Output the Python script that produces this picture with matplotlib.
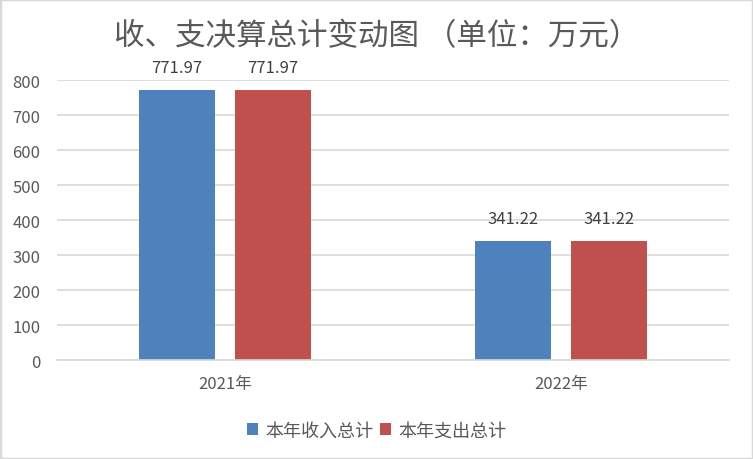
import matplotlib
matplotlib.use("Agg")
from matplotlib import pyplot as plt
from matplotlib.patches import Rectangle
import numpy as np

plt.rcParams['font.family'] = ['Noto Sans CJK SC', 'DejaVu Sans']

years = ["2021年", "2022年"]
income = [771.97, 341.22]
expense = [771.97, 341.22]
seriesNames = ["本年收入总计", "本年支出总计"]
colors = ["#4f81bd", "#c0504d"]

fig = plt.figure(figsize=(7.53, 4.6), dpi=100)
ax = fig.add_axes([0.0757, 0.2152, 0.8924, 0.6087])

x = np.arange(len(years))
width = 0.226
offset = 0.1425
bars1 = ax.bar(x - offset, income, width, color=colors[0], label=seriesNames[0])
bars2 = ax.bar(x + offset, expense, width, color=colors[1], label=seriesNames[1])

for bars in (bars1, bars2):
    for b in bars:
        ax.annotate(f"{b.get_height():.2f}", (b.get_x() + b.get_width() / 2, b.get_height()),
                    xytext=(0, 16), textcoords="offset points", ha="center", va="center",
                    fontsize=12, color="#404040")

ax.set_xlim(-0.5, 1.5)
ax.set_ylim(0, 800)
ax.set_yticks(range(0, 801, 100))
ax.set_xticks(x)
ax.set_xticklabels(years)
ax.tick_params(axis="both", length=0, labelsize=12, colors="#595959")
ax.tick_params(axis="x", pad=11)
ax.tick_params(axis="y", pad=12)
ax.grid(axis="y", color="#d9d9d9", linewidth=1.2)
ax.set_axisbelow(True)
for s in ["top", "right", "left"]:
    ax.spines[s].set_visible(False)
ax.spines["bottom"].set_color("#d9d9d9")
ax.spines["bottom"].set_linewidth(1.2)

fig.text(0.5, 0.921, "收、支决算总计变动图 （单位：万元）", ha="center", va="center",
         fontsize=22, color="#595959")

fig.legend(handles=[bars1, bars2], labels=seriesNames, loc="center", bbox_to_anchor=(0.5, 0.062),
           ncol=2, frameon=False, fontsize=13, labelcolor="#595959", handlelength=0.6,
           handleheight=0.6, handletextpad=0.4, columnspacing=0.4)

fig.patches.append(Rectangle((0, 0), 1, 1, transform=fig.transFigure, fill=False,
                             edgecolor="#d9d9d9", linewidth=2.5))

fig.savefig("out.png", dpi=100)
